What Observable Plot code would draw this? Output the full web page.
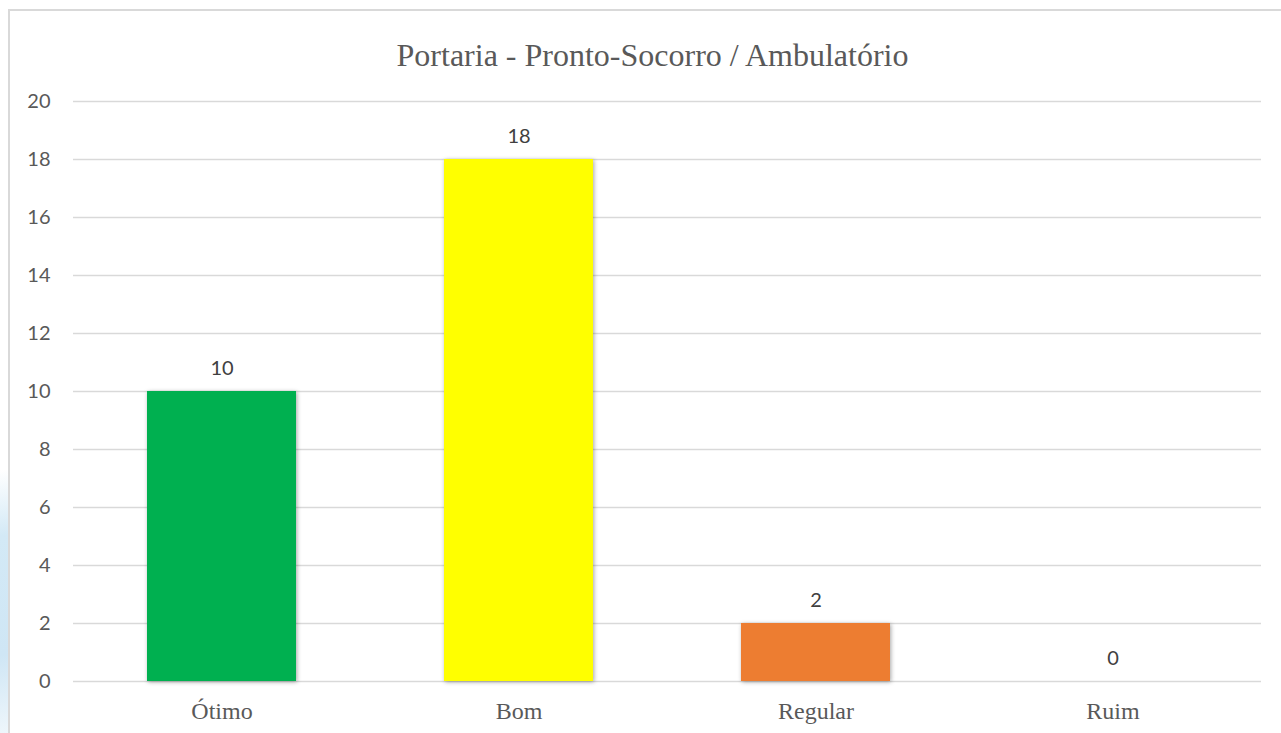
<!DOCTYPE html>
<html>
<head>
<meta charset="utf-8">
<script src="https://cdn.jsdelivr.net/npm/d3@7"></script>
<script src="https://cdn.jsdelivr.net/npm/@observablehq/plot@0.6"></script>
<style>
  html, body { margin: 0; padding: 0; background: #fff; width: 1281px; height: 733px; overflow: hidden; }
  #wrap { position: relative; width: 1281px; height: 733px; }
  #deco { position: absolute; left: 0; top: 470px; width: 9px; height: 263px;
          background: linear-gradient(170deg, rgba(255,255,255,0) 0%, #d3e9f6 25%, #cfe6f5 70%, #eef6fb 100%); }
  #frame { position: absolute; left: 8px; top: 9px; width: 1290px; height: 760px;
           border-top: 2px solid #d9d9d9; border-left: 2px solid #d9d9d9; box-sizing: border-box; }
  #chart { position: absolute; left: 0; top: 0; }
  #chart g[aria-label="bar"] rect { filter: drop-shadow(1px 1px 2px rgba(0,0,0,0.35)); }
</style>
</head>
<body>
<div id="wrap">
  <div id="deco"></div>
  <div id="frame"></div>
  <div id="chart"></div>
</div>
<script>
const title = "Portaria - Pronto-Socorro / Ambulatório";
const categories = ["Ótimo", "Bom", "Regular", "Ruim"];
const values = [10, 18, 2, 0];
const colors = ["#00B050", "#FFFF00", "#ED7D31", "#A5A5A5"];
const yTicks = [0, 2, 4, 6, 8, 10, 12, 14, 16, 18, 20];

const data = categories.map((c, i) => ({category: c, value: values[i], color: colors[i]}));

const chart = Plot.plot({
  width: 1281,
  height: 733,
  marginLeft: 73,
  marginRight: 20,
  marginTop: 101,
  marginBottom: 52,
  style: {background: "transparent", overflow: "visible"},
  x: {domain: categories, paddingInner: 0.5, paddingOuter: 0.25, label: null},
  y: {domain: [0, 20], label: null},
  marks: [
    Plot.gridY(yTicks, {stroke: "#d9d9d9", strokeOpacity: 1, strokeWidth: 1.5}),
    Plot.axisY(yTicks, {tickSize: 0, tickPadding: 23, fontSize: 20, fill: "#595959",
      fontFamily: "Lato, 'Open Sans', sans-serif", label: null}),
    Plot.axisX({tickSize: 0, tickPadding: 20, fontSize: 24, fill: "#595959",
      fontFamily: "'Liberation Serif', 'DejaVu Serif', serif", label: null}),
    Plot.barY(data.filter(d => d.value > 0), {x: "category", y: "value", fill: "color"}),
    Plot.text(data, {x: "category", y: "value", text: d => String(d.value), dy: -23,
      fontSize: 20, fill: "#404040", fontFamily: "Lato, 'Open Sans', sans-serif"}),
    Plot.text([title], {frameAnchor: "top", lineAnchor: "middle", dy: -46, dx: -15, text: d => d, fontSize: 32,
      fill: "#595959", fontFamily: "'Liberation Serif', 'DejaVu Serif', serif"})
  ]
});
document.getElementById("chart").appendChild(chart);
</script>
</body>
</html>
